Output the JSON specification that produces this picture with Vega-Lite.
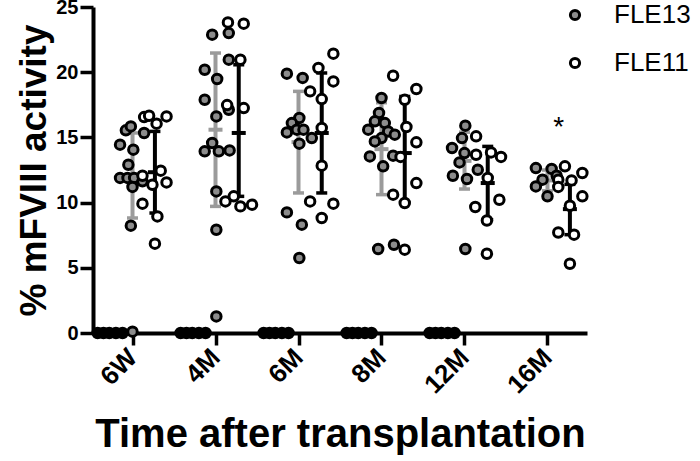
{
  "$schema": "https://vega.github.io/schema/vega-lite/v6.json",
  "width": 494,
  "height": 326,
  "autosize": {"type": "none"},
  "padding": {"left": 93, "top": 7, "right": 113, "bottom": 128},
  "background": "white",
  "config": {
    "view": {"stroke": null},
    "font": "Liberation Sans",
    "axis": {"grid": false, "domainColor": "black", "tickColor": "black", "labelColor": "black", "titleColor": "black", "domainWidth": 4, "tickWidth": 3.5, "labelFont": "Liberation Sans", "titleFont": "Liberation Sans", "labelFontWeight": "bold", "titleFontWeight": "bold"}
  },
  "datasets": {
    "pts": [
      {"t": "6W", "s": "FLE13", "dx": -0.08, "v": 15.54},
      {"t": "6W", "s": "FLE13", "dx": -0.02, "v": 15.84},
      {"t": "6W", "s": "FLE13", "dx": 0.14, "v": 15.34},
      {"t": "6W", "s": "FLE13", "dx": -0.15, "v": 14.44},
      {"t": "6W", "s": "FLE13", "dx": 0.01, "v": 14.06},
      {"t": "6W", "s": "FLE13", "dx": -0.05, "v": 12.9},
      {"t": "6W", "s": "FLE13", "dx": -0.15, "v": 11.89},
      {"t": "6W", "s": "FLE13", "dx": -0.06, "v": 11.89},
      {"t": "6W", "s": "FLE13", "dx": 0.02, "v": 11.89},
      {"t": "6W", "s": "FLE13", "dx": 0.12, "v": 11.63},
      {"t": "6W", "s": "FLE13", "dx": 0.0, "v": 11.2},
      {"t": "6W", "s": "FLE13", "dx": -0.02, "v": 8.23},
      {"t": "6W", "s": "FLE13", "dx": 0.0, "v": 0.1},
      {"t": "4M", "s": "FLE13", "dx": -0.04, "v": 22.88},
      {"t": "4M", "s": "FLE13", "dx": 0.16, "v": 23.0},
      {"t": "4M", "s": "FLE13", "dx": 0.16, "v": 20.96},
      {"t": "4M", "s": "FLE13", "dx": -0.13, "v": 20.19},
      {"t": "4M", "s": "FLE13", "dx": 0.02, "v": 19.48},
      {"t": "4M", "s": "FLE13", "dx": -0.13, "v": 17.89},
      {"t": "4M", "s": "FLE13", "dx": 0.01, "v": 16.61},
      {"t": "4M", "s": "FLE13", "dx": 0.16, "v": 17.12},
      {"t": "4M", "s": "FLE13", "dx": -0.13, "v": 13.93},
      {"t": "4M", "s": "FLE13", "dx": -0.04, "v": 14.57},
      {"t": "4M", "s": "FLE13", "dx": 0.04, "v": 13.93},
      {"t": "4M", "s": "FLE13", "dx": 0.17, "v": 14.0},
      {"t": "4M", "s": "FLE13", "dx": 0.01, "v": 10.86},
      {"t": "4M", "s": "FLE13", "dx": 0.01, "v": 7.92},
      {"t": "4M", "s": "FLE13", "dx": 0.01, "v": 1.27},
      {"t": "6M", "s": "FLE13", "dx": -0.14, "v": 19.89},
      {"t": "6M", "s": "FLE13", "dx": 0.05, "v": 19.56},
      {"t": "6M", "s": "FLE13", "dx": 0.01, "v": 16.49},
      {"t": "6M", "s": "FLE13", "dx": -0.08, "v": 16.1},
      {"t": "6M", "s": "FLE13", "dx": -0.14, "v": 15.38},
      {"t": "6M", "s": "FLE13", "dx": -0.02, "v": 15.59},
      {"t": "6M", "s": "FLE13", "dx": 0.06, "v": 15.59},
      {"t": "6M", "s": "FLE13", "dx": 0.16, "v": 14.95},
      {"t": "6M", "s": "FLE13", "dx": 0.01, "v": 14.52},
      {"t": "6M", "s": "FLE13", "dx": -0.14, "v": 9.25},
      {"t": "6M", "s": "FLE13", "dx": 0.04, "v": 8.31},
      {"t": "6M", "s": "FLE13", "dx": 0.01, "v": 5.75},
      {"t": "8M", "s": "FLE13", "dx": 0.0, "v": 18.02},
      {"t": "8M", "s": "FLE13", "dx": -0.03, "v": 16.87},
      {"t": "8M", "s": "FLE13", "dx": -0.08, "v": 16.23},
      {"t": "8M", "s": "FLE13", "dx": 0.04, "v": 16.1},
      {"t": "8M", "s": "FLE13", "dx": -0.16, "v": 15.59},
      {"t": "8M", "s": "FLE13", "dx": 0.08, "v": 15.46},
      {"t": "8M", "s": "FLE13", "dx": 0.0, "v": 14.95},
      {"t": "8M", "s": "FLE13", "dx": -0.08, "v": 14.69},
      {"t": "8M", "s": "FLE13", "dx": 0.16, "v": 15.21},
      {"t": "8M", "s": "FLE13", "dx": -0.14, "v": 13.54},
      {"t": "8M", "s": "FLE13", "dx": 0.14, "v": 13.6},
      {"t": "8M", "s": "FLE13", "dx": 0.02, "v": 12.78},
      {"t": "8M", "s": "FLE13", "dx": -0.04, "v": 6.44},
      {"t": "8M", "s": "FLE13", "dx": 0.15, "v": 6.77},
      {"t": "12M", "s": "FLE13", "dx": 0.01, "v": 15.9},
      {"t": "12M", "s": "FLE13", "dx": -0.03, "v": 14.95},
      {"t": "12M", "s": "FLE13", "dx": -0.15, "v": 14.19},
      {"t": "12M", "s": "FLE13", "dx": 0.0, "v": 13.8},
      {"t": "12M", "s": "FLE13", "dx": -0.06, "v": 13.08},
      {"t": "12M", "s": "FLE13", "dx": 0.16, "v": 12.52},
      {"t": "12M", "s": "FLE13", "dx": -0.14, "v": 12.06},
      {"t": "12M", "s": "FLE13", "dx": 0.03, "v": 11.81},
      {"t": "12M", "s": "FLE13", "dx": 0.01, "v": 6.44},
      {"t": "16M", "s": "FLE13", "dx": -0.14, "v": 12.65},
      {"t": "16M", "s": "FLE13", "dx": 0.05, "v": 12.58},
      {"t": "16M", "s": "FLE13", "dx": -0.06, "v": 11.76},
      {"t": "16M", "s": "FLE13", "dx": -0.14, "v": 11.24},
      {"t": "16M", "s": "FLE13", "dx": 0.0, "v": 10.48},
      {"t": "16M", "s": "FLE13", "dx": 0.11, "v": 12.06},
      {"t": "6W", "s": "FLE11", "dx": 0.14, "v": 16.56},
      {"t": "6W", "s": "FLE11", "dx": 0.2, "v": 16.66},
      {"t": "6W", "s": "FLE11", "dx": 0.41, "v": 16.61},
      {"t": "6W", "s": "FLE11", "dx": 0.29, "v": 16.05},
      {"t": "6W", "s": "FLE11", "dx": 0.12, "v": 12.06},
      {"t": "6W", "s": "FLE11", "dx": 0.34, "v": 12.45},
      {"t": "6W", "s": "FLE11", "dx": 0.24, "v": 11.37},
      {"t": "6W", "s": "FLE11", "dx": 0.41, "v": 11.55},
      {"t": "6W", "s": "FLE11", "dx": 0.12, "v": 9.92},
      {"t": "6W", "s": "FLE11", "dx": 0.3, "v": 8.94},
      {"t": "6W", "s": "FLE11", "dx": 0.27, "v": 6.85},
      {"t": "4M", "s": "FLE11", "dx": 0.15, "v": 23.82},
      {"t": "4M", "s": "FLE11", "dx": 0.34, "v": 23.72},
      {"t": "4M", "s": "FLE11", "dx": 0.3, "v": 20.96},
      {"t": "4M", "s": "FLE11", "dx": 0.14, "v": 17.48},
      {"t": "4M", "s": "FLE11", "dx": 0.34, "v": 17.25},
      {"t": "4M", "s": "FLE11", "dx": 0.12, "v": 10.09},
      {"t": "4M", "s": "FLE11", "dx": 0.22, "v": 10.48},
      {"t": "4M", "s": "FLE11", "dx": 0.3, "v": 9.71},
      {"t": "4M", "s": "FLE11", "dx": 0.44, "v": 9.84},
      {"t": "6M", "s": "FLE11", "dx": 0.42, "v": 21.42},
      {"t": "6M", "s": "FLE11", "dx": 0.24, "v": 20.32},
      {"t": "6M", "s": "FLE11", "dx": 0.42, "v": 19.29},
      {"t": "6M", "s": "FLE11", "dx": 0.14, "v": 18.53},
      {"t": "6M", "s": "FLE11", "dx": 0.28, "v": 17.94},
      {"t": "6M", "s": "FLE11", "dx": 0.28, "v": 15.72},
      {"t": "6M", "s": "FLE11", "dx": 0.28, "v": 12.83},
      {"t": "6M", "s": "FLE11", "dx": 0.14, "v": 10.09},
      {"t": "6M", "s": "FLE11", "dx": 0.42, "v": 9.92},
      {"t": "6M", "s": "FLE11", "dx": 0.28, "v": 8.82},
      {"t": "8M", "s": "FLE11", "dx": 0.14, "v": 19.73},
      {"t": "8M", "s": "FLE11", "dx": 0.42, "v": 18.71},
      {"t": "8M", "s": "FLE11", "dx": 0.28, "v": 17.89},
      {"t": "8M", "s": "FLE11", "dx": 0.3, "v": 15.8},
      {"t": "8M", "s": "FLE11", "dx": 0.42, "v": 14.62},
      {"t": "8M", "s": "FLE11", "dx": 0.23, "v": 13.5},
      {"t": "8M", "s": "FLE11", "dx": 0.42, "v": 11.5},
      {"t": "8M", "s": "FLE11", "dx": 0.14, "v": 10.61},
      {"t": "8M", "s": "FLE11", "dx": 0.28, "v": 9.97},
      {"t": "8M", "s": "FLE11", "dx": 0.28, "v": 6.39},
      {"t": "12M", "s": "FLE11", "dx": 0.14, "v": 15.08},
      {"t": "12M", "s": "FLE11", "dx": 0.14, "v": 13.67},
      {"t": "12M", "s": "FLE11", "dx": 0.32, "v": 13.85},
      {"t": "12M", "s": "FLE11", "dx": 0.44, "v": 13.5},
      {"t": "12M", "s": "FLE11", "dx": 0.28, "v": 11.89},
      {"t": "12M", "s": "FLE11", "dx": 0.42, "v": 10.22},
      {"t": "12M", "s": "FLE11", "dx": 0.13, "v": 9.66},
      {"t": "12M", "s": "FLE11", "dx": 0.27, "v": 8.63},
      {"t": "12M", "s": "FLE11", "dx": 0.27, "v": 6.08},
      {"t": "16M", "s": "FLE11", "dx": 0.21, "v": 12.78},
      {"t": "16M", "s": "FLE11", "dx": 0.42, "v": 12.27},
      {"t": "16M", "s": "FLE11", "dx": 0.13, "v": 11.76},
      {"t": "16M", "s": "FLE11", "dx": 0.29, "v": 11.7},
      {"t": "16M", "s": "FLE11", "dx": 0.13, "v": 11.2},
      {"t": "16M", "s": "FLE11", "dx": 0.42, "v": 10.48},
      {"t": "16M", "s": "FLE11", "dx": 0.27, "v": 9.76},
      {"t": "16M", "s": "FLE11", "dx": 0.13, "v": 7.71},
      {"t": "16M", "s": "FLE11", "dx": 0.32, "v": 7.54},
      {"t": "16M", "s": "FLE11", "dx": 0.27, "v": 5.31}
    ],
    "zeros": [
      {"t": "6W", "dx": -0.42, "v": 0}, {"t": "6W", "dx": -0.35, "v": 0}, {"t": "6W", "dx": -0.28, "v": 0}, {"t": "6W", "dx": -0.2, "v": 0}, {"t": "6W", "dx": -0.12, "v": 0},
      {"t": "4M", "dx": -0.42, "v": 0}, {"t": "4M", "dx": -0.35, "v": 0}, {"t": "4M", "dx": -0.28, "v": 0}, {"t": "4M", "dx": -0.2, "v": 0}, {"t": "4M", "dx": -0.12, "v": 0},
      {"t": "6M", "dx": -0.42, "v": 0}, {"t": "6M", "dx": -0.35, "v": 0}, {"t": "6M", "dx": -0.28, "v": 0}, {"t": "6M", "dx": -0.2, "v": 0}, {"t": "6M", "dx": -0.12, "v": 0},
      {"t": "8M", "dx": -0.42, "v": 0}, {"t": "8M", "dx": -0.35, "v": 0}, {"t": "8M", "dx": -0.28, "v": 0}, {"t": "8M", "dx": -0.2, "v": 0}, {"t": "8M", "dx": -0.12, "v": 0},
      {"t": "12M", "dx": -0.42, "v": 0}, {"t": "12M", "dx": -0.35, "v": 0}, {"t": "12M", "dx": -0.28, "v": 0}, {"t": "12M", "dx": -0.2, "v": 0}, {"t": "12M", "dx": -0.12, "v": 0}
    ],
    "summary": [
      {"t": "6W", "s": "FLE13", "dx": 0.0, "mean": 12.08, "lo": 8.82, "hi": 15.34},
      {"t": "6W", "s": "FLE11", "dx": 0.27, "mean": 12.33, "lo": 9.2, "hi": 15.46},
      {"t": "4M", "s": "FLE13", "dx": 0.0, "mean": 15.59, "lo": 9.71, "hi": 21.47},
      {"t": "4M", "s": "FLE11", "dx": 0.28, "mean": 15.34, "lo": 10.48, "hi": 20.57},
      {"t": "6M", "s": "FLE13", "dx": 0.0, "mean": 14.64, "lo": 10.74, "hi": 18.53},
      {"t": "6M", "s": "FLE11", "dx": 0.28, "mean": 15.34, "lo": 10.74, "hi": 19.94},
      {"t": "8M", "s": "FLE13", "dx": 0.0, "mean": 14.1, "lo": 10.61, "hi": 17.66},
      {"t": "8M", "s": "FLE11", "dx": 0.28, "mean": 13.8, "lo": 9.97, "hi": 18.14},
      {"t": "12M", "s": "FLE13", "dx": 0.0, "mean": 13.2, "lo": 11.04, "hi": 15.4},
      {"t": "12M", "s": "FLE11", "dx": 0.28, "mean": 11.5, "lo": 8.69, "hi": 14.31},
      {"t": "16M", "s": "FLE13", "dx": 0.0, "mean": 11.7, "lo": 10.9, "hi": 12.5},
      {"t": "16M", "s": "FLE11", "dx": 0.27, "mean": 9.5, "lo": 7.54, "hi": 11.4}
    ],
    "notes": [
      {"t": "16M", "dx": 0.136, "v": 15.13, "label": "*"}
    ]
  },
  "encoding": {
    "x": {
      "field": "t", "type": "ordinal",
      "scale": {"type": "point", "padding": 0.476, "domain": ["6W", "4M", "6M", "8M", "12M", "16M"]},
      "axis": {"title": "Time after transplantation", "labelAngle": -45, "labelAlign": "right", "labelBaseline": "middle", "labelFontSize": 26, "labelPadding": 8, "tickSize": 12, "titleFontSize": 40, "titlePadding": 17}
    },
    "xOffset": {"field": "dx", "type": "quantitative", "scale": {"domain": [-0.5, 0.5], "range": [-41.5, 41.5]}}
  },
  "layer": [
    {
      "data": {"name": "summary"},
      "transform": [{"filter": "datum.s === 'FLE13'"}],
      "layer": [
        {"mark": {"type": "rule", "strokeWidth": 4, "color": "#9b9b9b"},
         "encoding": {
           "y": {"field": "lo", "type": "quantitative", "scale": {"domain": [0, 25], "nice": false}, "axis": {"title": "% mFVIII activity", "values": [0, 5, 10, 15, 20, 25], "tickSize": 13, "labelFontSize": 20, "labelPadding": 2, "titleFontSize": 37, "titlePadding": 2}},
           "y2": {"field": "hi"}}},
        {"mark": {"type": "tick", "orient": "horizontal", "size": 11, "thickness": 3.5, "opacity": 1, "color": "#9b9b9b"},
         "encoding": {"y": {"field": "lo", "type": "quantitative"}}},
        {"mark": {"type": "tick", "orient": "horizontal", "size": 11, "thickness": 3.5, "opacity": 1, "color": "#9b9b9b"},
         "encoding": {"y": {"field": "hi", "type": "quantitative"}}},
        {"mark": {"type": "tick", "orient": "horizontal", "size": 14, "thickness": 4, "opacity": 1, "color": "#9b9b9b"},
         "encoding": {"y": {"field": "mean", "type": "quantitative"}}}
      ]
    },
    {
      "data": {"name": "summary"},
      "transform": [{"filter": "datum.s === 'FLE11'"}],
      "layer": [
        {"mark": {"type": "rule", "strokeWidth": 4, "color": "#000000"},
         "encoding": {"y": {"field": "lo", "type": "quantitative"}, "y2": {"field": "hi"}}},
        {"mark": {"type": "tick", "orient": "horizontal", "size": 11, "thickness": 3.5, "opacity": 1, "color": "#000000"},
         "encoding": {"y": {"field": "lo", "type": "quantitative"}}},
        {"mark": {"type": "tick", "orient": "horizontal", "size": 11, "thickness": 3.5, "opacity": 1, "color": "#000000"},
         "encoding": {"y": {"field": "hi", "type": "quantitative"}}},
        {"mark": {"type": "tick", "orient": "horizontal", "size": 14, "thickness": 4, "opacity": 1, "color": "#000000"},
         "encoding": {"y": {"field": "mean", "type": "quantitative"}}}
      ]
    },
    {
      "data": {"name": "zeros"},
      "mark": {"type": "circle", "size": 90, "fill": "black", "stroke": "black", "strokeWidth": 3, "opacity": 1, "clip": false},
      "encoding": {
        "y": {"field": "v", "type": "quantitative"}
      }
    },
    {
      "data": {"name": "pts"},
      "mark": {"type": "circle", "size": 90, "stroke": "black", "strokeWidth": 3, "opacity": 1, "clip": false},
      "encoding": {
        "y": {"field": "v", "type": "quantitative"},
        "fill": {"field": "s", "type": "nominal", "scale": {"domain": ["FLE13", "FLE11"], "range": ["#8c8c8c", "#ffffff"]},
          "legend": {"title": null, "orient": "none", "legendX": 469, "legendY": -5, "direction": "vertical", "labelFontSize": 26, "labelFont": "Liberation Sans", "labelColor": "black", "labelOffset": 26, "symbolSize": 85, "symbolStrokeWidth": 3, "symbolStrokeColor": "black", "symbolType": "circle", "symbolOpacity": 1, "rowPadding": 22, "padding": 0}}
      }
    },
    {
      "data": {"name": "notes"},
      "mark": {"type": "text", "fontSize": 28, "align": "center", "baseline": "alphabetic", "color": "black"},
      "encoding": {
        "y": {"field": "v", "type": "quantitative"},
        "text": {"field": "label"}
      }
    }
  ]
}
